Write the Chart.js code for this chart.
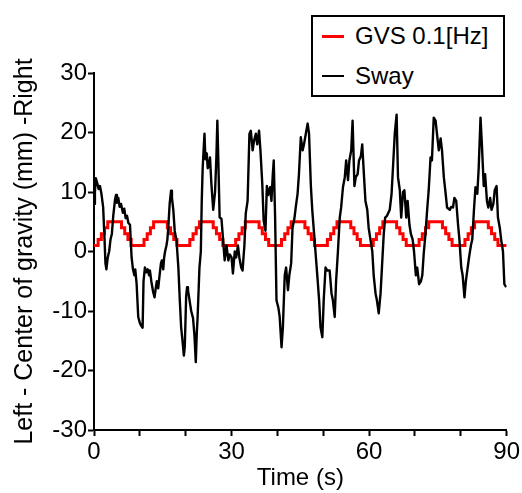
<!DOCTYPE html>
<html>
<head>
<meta charset="utf-8">
<script src="https://cdn.jsdelivr.net/npm/chart.js@4"></script>
<style>
  body { margin: 0; background: #fff; }
  #wrap { position: relative; width: 522px; height: 493px; }
  #legend {
    position: absolute; left: 311px; top: 15px; width: 190px; height: 78px;
    border: 2px solid #000; background: #fff;
    font-family: "Liberation Sans", Arial, sans-serif; font-size: 24px; color: #000;
  }
  .item { position: absolute; left: 0; height: 30px; line-height: 30px; }
  .item span.swatch { position: absolute; left: 9px; width: 22px; }
  .item span.txt { position: absolute; left: 42px; white-space: nowrap; }
</style>
</head>
<body>
<div id="wrap">
  <canvas id="myChart" width="522" height="493"></canvas>
  <div id="legend"></div>
</div>
<script>
// series names
const seriesNames = ['GVS 0.1[Hz]', 'Sway'];

// GVS stimulus: time (s) where the level changes, and the new level
const gvsTime = [
  0, 0.9, 1.6, 2.3, 3.0, 6.0, 6.7, 7.4, 8.1,
  10.9, 11.6, 12.3, 13.0, 16.0, 16.7, 17.4, 18.1,
  20.9, 21.6, 22.3, 23.0, 26.0, 26.7, 27.4, 28.1,
  30.9, 31.6, 32.3, 33.0, 36.0, 36.7, 37.4, 38.1,
  40.9, 41.6, 42.3, 43.0, 46.0, 46.7, 47.4, 48.1,
  50.9, 51.6, 52.3, 53.0, 56.0, 56.7, 57.4, 58.1,
  60.9, 61.6, 62.3, 63.0, 66.0, 66.7, 67.4, 68.1,
  70.9, 71.6, 72.3, 73.0, 76.0, 76.7, 77.4, 78.1,
  80.9, 81.6, 82.3, 83.0, 86.0, 86.7, 87.4, 88.1,
  90
];
const gvsLevel = [
  1, 2, 3, 4, 5, 4, 3, 2, 1,
  2, 3, 4, 5, 4, 3, 2, 1,
  2, 3, 4, 5, 4, 3, 2, 1,
  2, 3, 4, 5, 4, 3, 2, 1,
  2, 3, 4, 5, 4, 3, 2, 1,
  2, 3, 4, 5, 4, 3, 2, 1,
  2, 3, 4, 5, 4, 3, 2, 1,
  2, 3, 4, 5, 4, 3, 2, 1,
  2, 3, 4, 5, 4, 3, 2, 1,
  1
];

// body sway (mm)
const swayTime = [
  0, 0.2, 0.4, 0.7, 1.0, 1.3, 1.6, 2.0, 2.3, 2.5, 2.7, 3.0, 3.3, 3.6, 3.9, 4.2, 4.6, 4.8, 5.0, 5.3,
  5.6, 5.9, 6.3, 6.6, 6.9, 7.2, 7.5, 7.85, 8.2, 8.5, 8.8, 9.0, 9.3, 9.65, 10.0, 10.3, 10.6, 10.8, 11.1, 11.4,
  11.7, 12.0, 12.2, 12.5, 12.9, 13.2, 13.5, 13.7, 14.0, 14.3, 14.6, 14.8, 15.1, 15.3, 15.5, 15.8, 16.0, 16.2, 16.5, 16.8,
  17.0, 17.3, 17.6, 18.0, 18.4, 18.7, 19.0, 19.3, 19.6, 19.8, 20.1, 20.3, 20.5, 20.8, 21.2, 21.6, 21.9, 22.2, 22.4, 22.6,
  23.0, 23.3, 23.5, 23.7, 23.9, 24.1, 24.3, 24.6, 24.8, 25.1, 25.3, 25.6, 26.0, 26.4, 26.7, 26.9, 27.1, 27.4, 27.8, 28.1,
  28.5, 28.9, 29.3, 29.6, 30.0, 30.3, 30.7, 31.0, 31.4, 31.7, 32.1, 32.4, 32.8, 33.1, 33.5, 33.9, 34.2, 34.6, 34.9, 35.3,
  35.6, 36.0, 36.3, 36.7, 37.0, 37.4, 37.7, 38.0, 38.4, 38.7, 39.0, 39.2, 39.5, 39.8, 40.2, 40.5, 40.9, 41.2, 41.6, 41.9,
  42.3, 42.6, 43.0, 43.3, 43.7, 44.0, 44.4, 44.7, 45.1, 45.5, 45.8, 46.2, 46.6, 46.9, 47.3, 47.6, 48.0, 48.3, 48.7, 49.1,
  49.4, 49.8, 50.1, 50.5, 50.9, 51.4, 51.8, 52.1, 52.5, 52.8, 53.2, 53.6, 53.9, 54.3, 54.7, 55.0, 55.4, 55.7, 56.1, 56.4,
  56.8, 57.1, 57.5, 57.8, 58.2, 58.5, 58.9, 59.2, 59.6, 59.9, 60.3, 60.7, 61.0, 61.4, 61.7, 62.1, 62.5, 62.8, 63.2, 63.5,
  63.9, 64.5, 64.9, 65.2, 65.6, 66.0, 66.3, 66.7, 67.0, 67.4, 67.7, 68.1, 68.4, 68.8, 69.1, 69.5, 69.8, 70.2, 70.5, 70.9,
  71.3, 71.6, 71.9, 72.3, 72.7, 73.0, 73.4, 73.7, 74.1, 74.5, 74.8, 75.2, 75.6, 75.9, 76.3, 76.7, 77.0, 77.6, 77.9, 78.3,
  78.6, 79.0, 79.4, 79.7, 80.1, 80.4, 80.8, 81.1, 81.5, 81.8, 82.2, 82.5, 82.9, 83.2, 83.6, 83.9, 84.3, 84.6, 85.0, 85.3,
  85.7, 86.0, 86.4, 86.7, 87.1, 87.4, 87.8, 88.1, 88.5, 88.8, 89.2, 89.5, 89.9
];
const swayValue = [
  8, 10, 12.3, 11.5, 10.5, 11, 9.8, 7.4, 2, -2, -3, -1, 0, 2, 3, 6, 8.8, 9.5, 8.2, 9,
  7.5, 8, 6.5, 7.2, 5.6, 6, 4.8, 4.5, -1, -3, -4, -3, -5.5, -11, -12, -12.5, -12.8, -5, -2.7, -3.5,
  -3, -4, -3.2, -5, -6.8, -7.7, -6, -5, -6.2, -4, -2, -1.5, -3, -1, 0, 1, 2, 4, 8, 10.2,
  9, 7, 3.5, 1.8, -2.7, -8, -12.7, -15, -17.5, -16, -7.5, -6, -6.5, -8, -10, -11.2, -14, -18.6, -14, -11,
  -2.7, 0, 8.5, 14, 17, 19.8, 15.5, 16.5, 14, 14.5, 15.8, 11.4, 7, 10, 16, 22, 15.8, 5.7, 5.5, 2.5,
  -1.5, 1, -1.5, -0.5, -1, -3.7, 0, -1, 1, -1, -2.7, -3.2, 1, 6.4, 8.5, 19.8, 20.3, 17, 18.6, 19.8,
  18, 20.3, 17, 11.4, 5.2, 3.5, 11, 9.5, 10.8, 8.5, 13, 15.3, 5.7, -8.2, -9.4, -11, -16.1, -12.7, -4, -2.7,
  -6.5, -4, -2, 4, 5.5, 7.4, 9.7, 13, 19.2, 17, 18, 19.8, 21.5, 19.8, 11, 7, 3, 0, -4, -8.2,
  -12.7, -14.4, -8.2, -2.7, -3.2, -3.2, -7, -8.2, -11, -5, 0, 5.7, 7.4, 10.8, 12.5, 15.3, 12, 15.3, 17, 22,
  11, 12.5, 13, 15.3, 16, 18, 12.5, 8.5, 7, 4, 2, 0, -4, -7, -8.2, -10.4, -7, -2.7, 3, 5.7,
  6, 7, 9.7, 14, 19.8, 23, 12.5, 10.3, 5.7, 10, 10.3, 5.7, 8.5, 4.5, 3, 2, 0, -4, -2.7, -5.5,
  -5, -4, -0.5, 3, 7.4, 10.3, 15.8, 15.3, 22.5, 22, 19.8, 17, 19, 17, 12.5, 9.7, 7.4, 7, 7.5, 7.4,
  9, 8.5, 4.5, 2, -2.7, -4, -7.7, -5, -2.7, -1, 1, 2, 7.4, 10.8, 9.7, 14, 22.5, 18, 11, 13,
  8.5, 7.4, 9, 7, 8, 10.3, 11, 5.7, 4, 2, 0, -5.5, -6
];

// axis ticks
const xTickLabels = [0, 30, 60, 90];
const yTickStep = 10;

const seriesColors = ['#ff0000', '#000000'];
const FONT = '"Liberation Sans", Arial, sans-serif';

const gvsPoints = gvsTime.map((t, i) => ({ x: t, y: gvsLevel[i] }));
const swayPoints = swayTime.map((t, i) => ({ x: t, y: swayValue[i] }));

const data = {
    datasets: [{
        label: seriesNames[0],
        data: gvsPoints,
        borderColor: seriesColors[0],
        borderWidth: 3,
        stepped: 'before',
        pointRadius: 0,
        order: 2
    }, {
        label: seriesNames[1],
        data: swayPoints,
        borderColor: seriesColors[1],
        borderWidth: 2.4,
        borderJoinStyle: 'round',
        tension: 0,
        pointRadius: 0,
        order: 1
    }]
};

const config = {
    type: 'line',
    data,
    options: {
        responsive: false,
        animation: false,
        layout: { padding: { top: 73, right: 15, left: 0, bottom: 0 } },
        plugins: {
            legend: { display: false },
            tooltip: { enabled: false }
        },
        scales: {
            x: {
                type: 'linear',
                min: 0,
                max: 90,
                afterFit: s => { s.height = 63; },
                ticks: {
                    stepSize: 10,
                    autoSkip: false,
                    maxRotation: 0,
                    padding: 2,
                    color: '#000',
                    font: { family: FONT, size: 24 },
                    callback: v => xTickLabels.includes(v) ? String(v) : ''
                },
                grid: { drawOnChartArea: false, tickLength: 6, tickColor: '#000', tickWidth: 2 },
                border: { color: '#000', width: 2 },
                title: {
                    display: true,
                    text: 'Time (s)',
                    color: '#000',
                    font: { family: FONT, size: 24 },
                    padding: 0
                }
            },
            y: {
                min: -30,
                max: 30,
                afterFit: s => { s.width = 94; },
                ticks: {
                    stepSize: yTickStep,
                    padding: 1,
                    color: '#000',
                    font: { family: FONT, size: 24 }
                },
                grid: { drawOnChartArea: false, tickLength: 6, tickColor: '#000', tickWidth: 2 },
                border: { color: '#000', width: 2 },
                title: {
                    display: true,
                    text: 'Left - Center of gravity (mm) -Right',
                    color: '#000',
                    font: { family: FONT, size: 25 },
                    padding: { top: 10, bottom: 0 }
                }
            }
        }
    }
};

var myChart = new Chart(document.getElementById('myChart'), config);

// legend box, built from the dataset labels
const legend = document.getElementById('legend');
data.datasets.forEach((ds, i) => {
    const row = document.createElement('div');
    row.className = 'item';
    row.style.top = (4 + i * 40) + 'px';
    row.style.width = '100%';
    const sw = document.createElement('span');
    sw.className = 'swatch';
    sw.style.top = (15 - ds.borderWidth / 2) + 'px';
    sw.style.height = (i === 0 ? 3 : 2) + 'px';
    sw.style.background = ds.borderColor;
    const tx = document.createElement('span');
    tx.className = 'txt';
    tx.textContent = ds.label;
    row.appendChild(sw);
    row.appendChild(tx);
    legend.appendChild(row);
});
</script>
</body>
</html>
